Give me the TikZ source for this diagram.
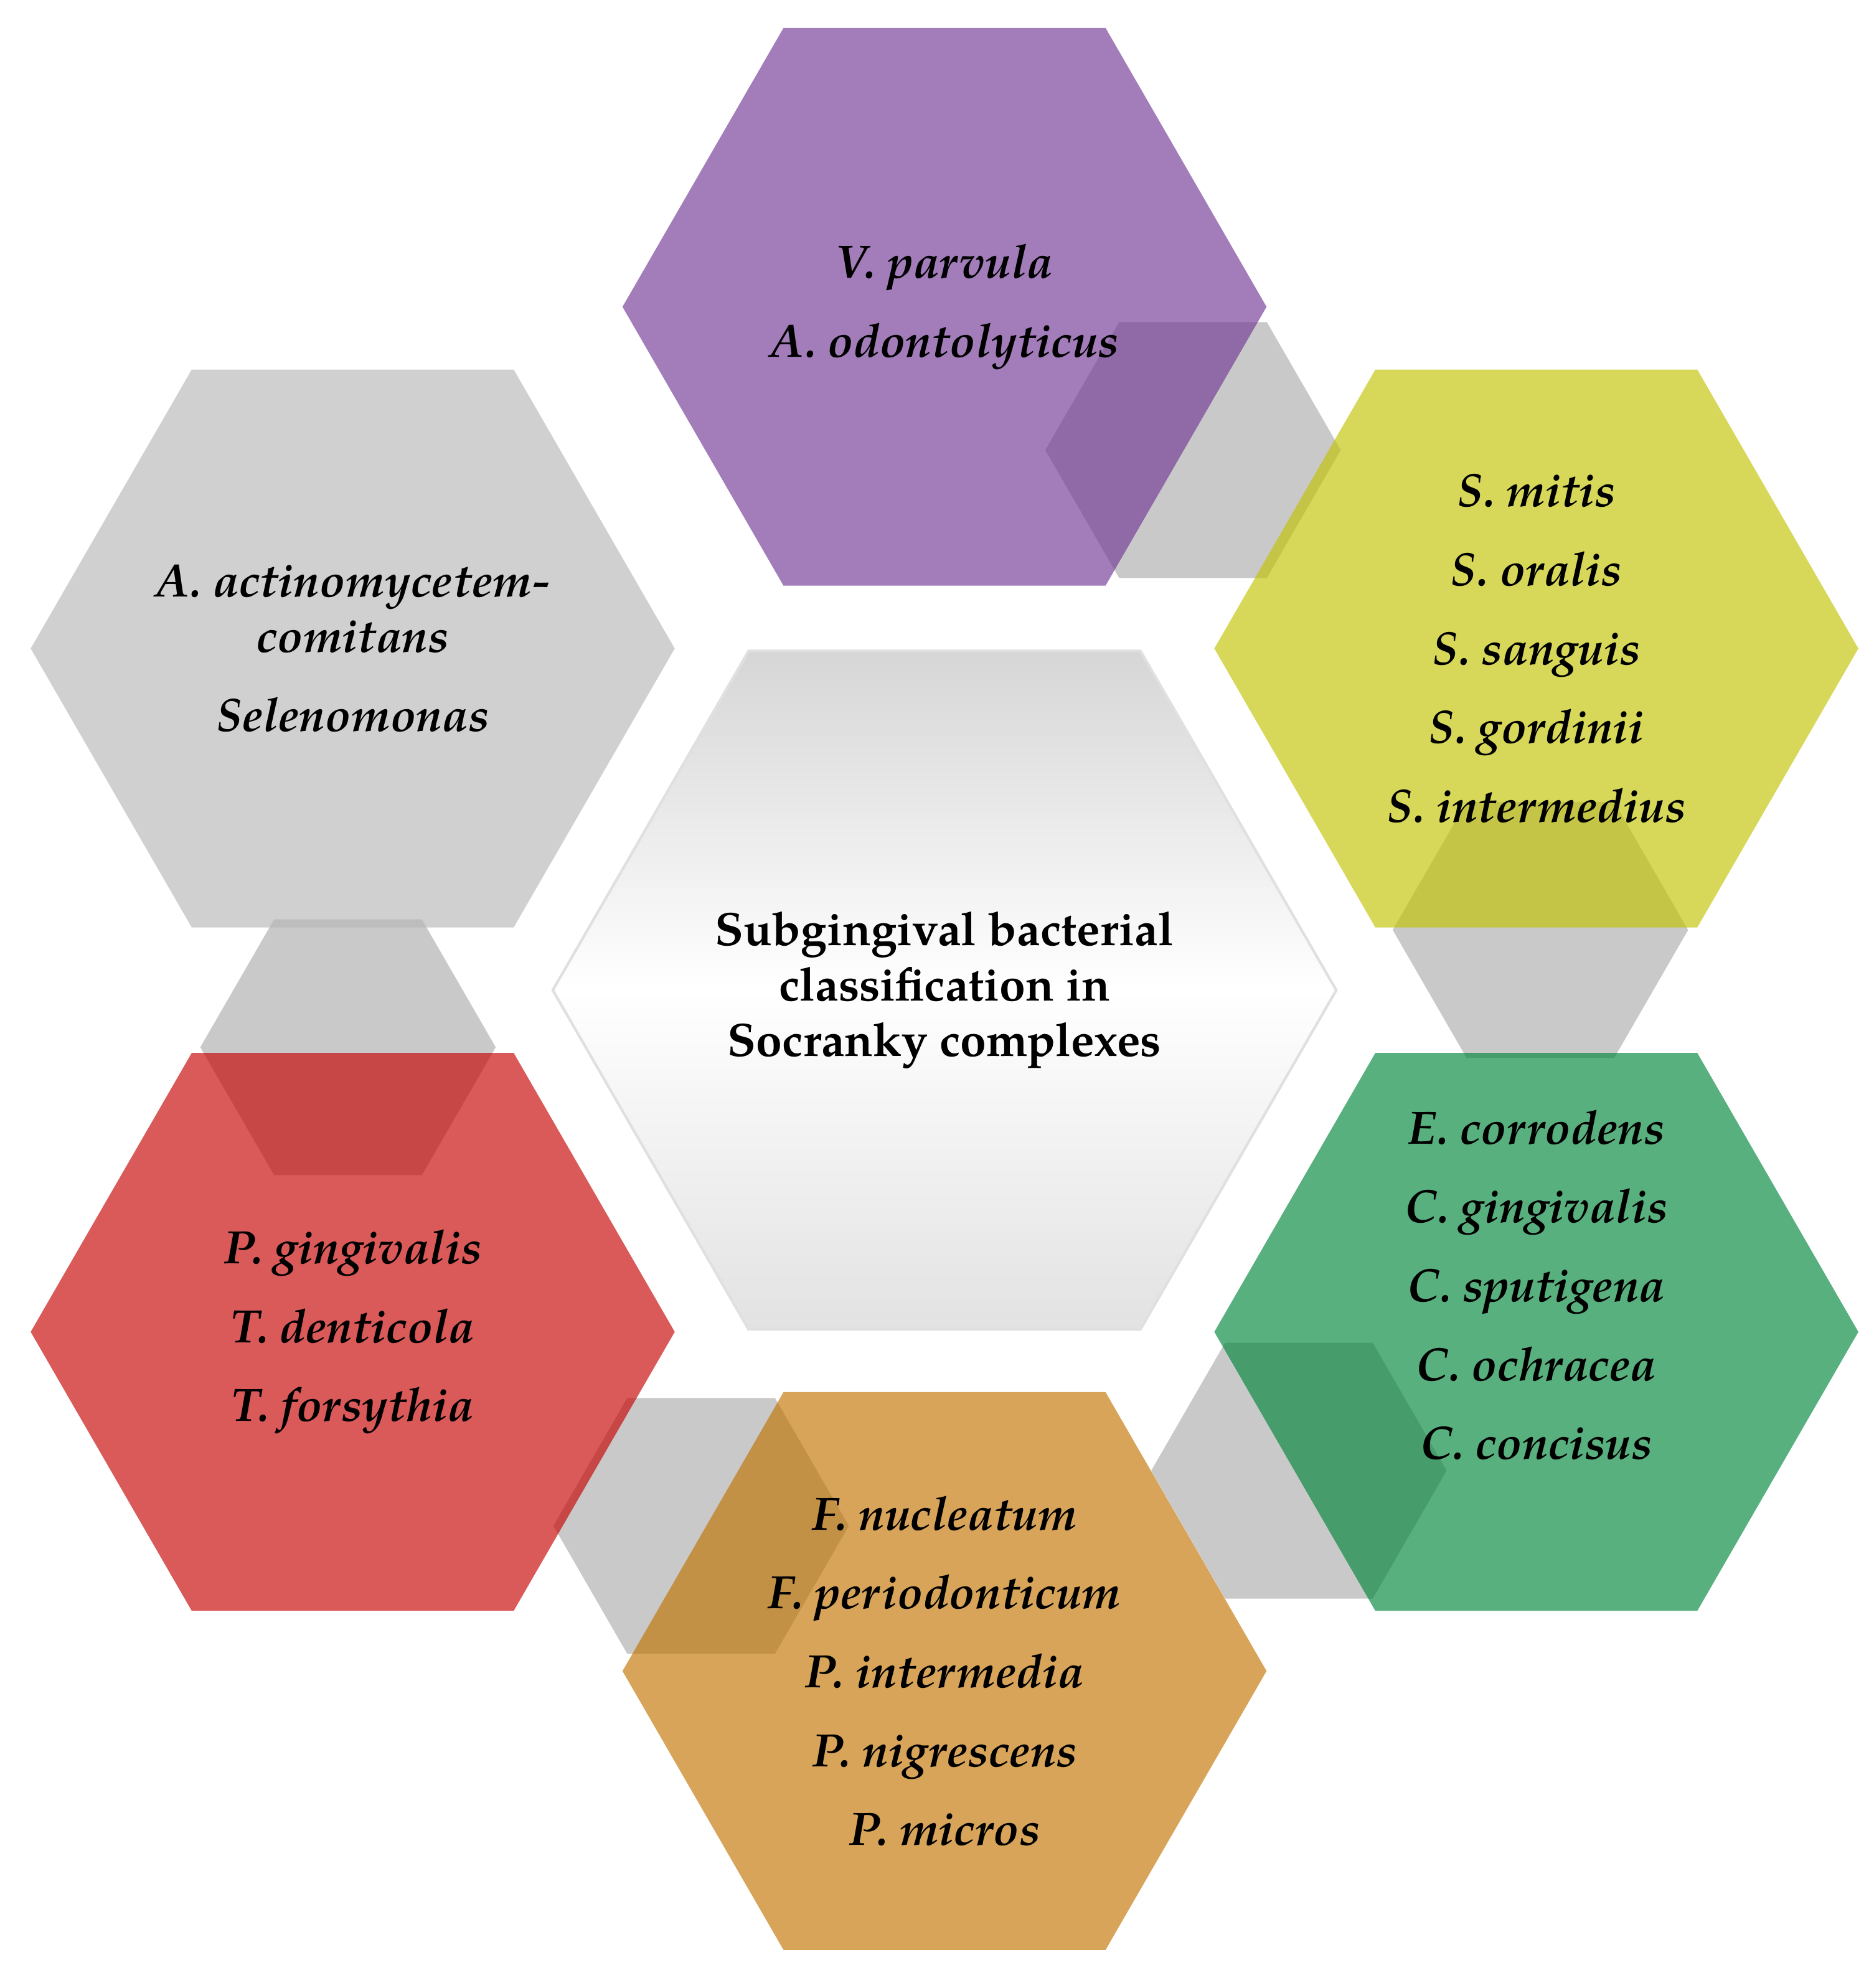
\documentclass[tikz,border=0pt]{standalone}
\usepackage{fontspec}
\setmainfont{texgyrepagella}[Extension=.otf, UprightFont=*-regular, BoldFont=*-bold, ItalicFont=*-italic, BoldItalicFont=*-bolditalic]
\usetikzlibrary{shapes.geometric}

\definecolor{cellpurple}{RGB}{114,55,149}
\definecolor{cellyellow}{RGB}{194,194,0}
\definecolor{cellgreen}{RGB}{0,134,58}
\definecolor{cellorange}{RGB}{193,115,1}
\definecolor{cellred}{RGB}{198,0,0}
\definecolor{cellgray}{RGB}{183,183,183}
\definecolor{linkgray}{RGB}{201,201,201}
\definecolor{hubtop}{RGB}{214,214,214}
\definecolor{hubbottom}{RGB}{226,226,226}

\begin{document}
\begin{tikzpicture}[
  cell/.style={regular polygon, regular polygon sides=6, minimum size=5.08cm,
    inner sep=0pt, outer sep=0pt, fill opacity=0.65},
  link/.style={regular polygon, regular polygon sides=6, minimum size=2.33cm,
    inner sep=0pt, outer sep=0pt, fill=linkgray},
  species/.style={align=center, font=\fontsize{10.5}{12.4}\selectfont\bfseries\itshape},
  ]
  \useasboundingbox (-7.45,-7.87) rectangle (7.33,7.81);
  % connectors behind the cells
  \node[link] (l1) at (1.96,4.26) {};
  \node[link] (l2) at (4.70,0.475) {};
  \node[link] (l3) at (2.795,-3.79) {};
  \node[link] (l4) at (-1.92,-4.225) {};
  \node[link] (l5) at (-4.705,-0.45) {};
  % outer cells
  \node[cell, fill=cellpurple] (purple) at (90:5.39) {};
  \node[cell, fill=cellyellow] (yellow) at (30:5.39) {};
  \node[cell, fill=cellgreen] (green) at (-30:5.39) {};
  \node[cell, fill=cellorange] (orange) at (-90:5.37) {};
  \node[cell, fill=cellred] (red) at (210:5.39) {};
  \node[cell, fill=cellgray] (gray) at (150:5.39) {};
  % centre cell
  \node[regular polygon, regular polygon sides=6, minimum size=6.18cm, inner sep=0pt,
    draw=black!12, line width=0.6pt, top color=hubtop, bottom color=hubbottom,
    middle color=white] (hub) at (0,0) {};
  \node[align=center, font=\fontsize{10.5}{12.4}\selectfont\bfseries] at (hub)
    {Subgingival bacterial\\classification in\\Socranky complexes};
  % species
  \node[species] at (purple) {V. parvula\\[5.3pt]A. odontolyticus};
  \node[species] at (yellow) {S. mitis\\[5.3pt]S. oralis\\[5.3pt]S. sanguis\\[5.3pt]S. gordinii\\[5.3pt]S. intermedius};
  \node[species] at ([yshift=0.37cm]green.center) {E. corrodens\\[5.3pt]C. gingivalis\\[5.3pt]C. sputigena\\[5.3pt]C. ochracea\\[5.3pt]C. concisus};
  \node[species] at (orange) {F. nucleatum\\[5.3pt]F. periodonticum\\[5.3pt]P. intermedia\\[5.3pt]P. nigrescens\\[5.3pt]P. micros};
  \node[species] at (red) {P. gingivalis\\[5.3pt]T. denticola\\[5.3pt]T. forsythia};
  \node[species] at (gray) {A. actinomycetem-\\comitans\\[5.3pt]Selenomonas};
\end{tikzpicture}
\end{document}
